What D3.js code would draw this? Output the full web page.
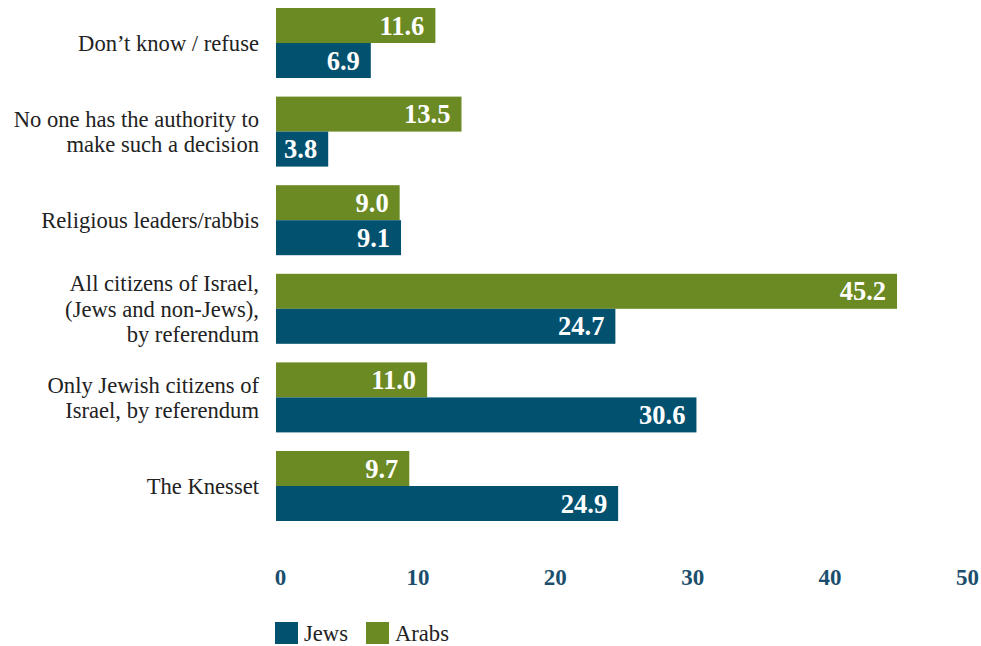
<!DOCTYPE html>
<html>
<head>
<meta charset="utf-8">
<script src="https://cdn.jsdelivr.net/npm/d3@7"></script>
<style>
  html, body { margin: 0; padding: 0; background: #fff; }
  svg { display: block; }
</style>
</head>
<body>
<svg id="chart" width="981" height="646"></svg>
<script>
// Who should decide: answers by population group (percent)
const categories = [
  ["Don\u2019t know / refuse"],
  ["No one has the authority to", "make such a decision"],
  ["Religious leaders/rabbis"],
  ["All citizens of Israel,", "(Jews and non-Jews),", "by referendum"],
  ["Only Jewish citizens of", "Israel, by referendum"],
  ["The Knesset"]
];
const arabsValues = [11.6, 13.5, 9.0, 45.2, 11.0, 9.7];
const jewsValues  = [6.9, 3.8, 9.1, 24.7, 30.6, 24.9];
const seriesNames = ["Arabs", "Jews"];
const tickValues = [0, 10, 20, 30, 40, 50];

const colors = { Jews: "#02516f", Arabs: "#6b8a23" };
const serif = "'Liberation Serif', 'DejaVu Serif', serif";

const svg = d3.select("#chart");

const x = d3.scaleLinear().domain([0, 50]).range([276, 963]);

const y = d3.scaleBand()
  .domain(d3.range(categories.length))
  .range([-1.3, 530.3])
  .paddingInner(0.21)
  .paddingOuter(0.105);

const ySub = d3.scaleBand()
  .domain(seriesNames)
  .range([0, y.bandwidth()]);

const rows = categories.map((c, i) => ({
  lines: c,
  values: { Arabs: arabsValues[i], Jews: jewsValues[i] }
}));

const groups = svg.append("g").selectAll("g")
  .data(rows)
  .join("g")
  .attr("transform", (d, i) => `translate(0,${y(i)})`);

// bars
groups.selectAll("rect")
  .data(d => seriesNames.map(s => ({ s, v: d.values[s] })))
  .join("rect")
  .attr("x", x(0))
  .attr("y", d => ySub(d.s))
  .attr("width", d => x(d.v) - x(0))
  .attr("height", ySub.bandwidth())
  .attr("fill", d => colors[d.s]);

// value labels inside the bar ends
groups.selectAll("text.val")
  .data(d => seriesNames.map(s => ({ s, v: d.values[s] })))
  .join("text")
  .attr("class", "val")
  .attr("x", d => x(d.v) - 11)
  .attr("y", d => ySub(d.s) + ySub.bandwidth() / 2)
  .attr("dy", "0.34em")
  .attr("text-anchor", "end")
  .attr("fill", "#fff")
  .attr("font-family", serif)
  .attr("font-weight", "bold")
  .attr("font-size", 26.5)
  .text(d => d3.format(".1f")(d.v));

// category labels
const lineH = 25.5;
groups.append("text")
  .attr("text-anchor", "end")
  .attr("fill", "#222")
  .attr("font-family", serif)
  .attr("font-size", 22.6)
  .each(function(d) {
    const t = d3.select(this);
    const n = d.lines.length;
    const mid = y.bandwidth() / 2;
    d.lines.forEach((line, k) => {
      t.append("tspan")
        .attr("x", 259)
        .attr("y", mid + (k - (n - 1) / 2) * lineH)
        .attr("dy", "0.35em")
        .text(line);
    });
  });

// x axis (labels only)
const axis = d3.axisBottom(x)
  .tickValues(tickValues)
  .tickSize(0)
  .tickPadding(0)
  .tickFormat(d3.format("d"));

const axisG = svg.append("g")
  .attr("transform", "translate(4,569)")
  .call(axis);
axisG.select(".domain").remove();
axisG.selectAll("text")
  .attr("fill", "#1b4f6d")
  .attr("font-family", serif)
  .attr("font-weight", "bold")
  .attr("font-size", 23);

// legend
const legendItems = [
  { name: "Jews", x: 275 },
  { name: "Arabs", x: 366 }
];
const legend = svg.append("g").selectAll("g")
  .data(legendItems)
  .join("g")
  .attr("transform", d => `translate(${d.x},622)`);
legend.append("rect")
  .attr("width", 23)
  .attr("height", 22)
  .attr("fill", d => colors[d.name]);
legend.append("text")
  .attr("x", 29)
  .attr("y", 11)
  .attr("dy", "0.36em")
  .attr("fill", "#222")
  .attr("font-family", serif)
  .attr("font-size", 22.6)
  .text(d => d.name);
</script>
</body>
</html>
